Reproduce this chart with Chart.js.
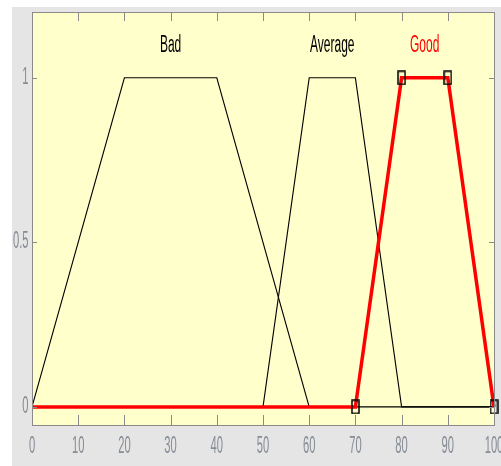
<!DOCTYPE html>
<html>
<head>
<meta charset="utf-8">
<script src="https://cdn.jsdelivr.net/npm/chart.js@4"></script>
<style>
  html, body { margin: 0; padding: 0; background: #ffffff; overflow: hidden; }
  #wrap { position: absolute; left: 12px; top: 7px; width: 500px; height: 459px; background: #e5e5e5; }
</style>
</head>
<body>
<div id="wrap"><canvas id="mfChart"></canvas></div>
<script>
// Функции принадлежности (трапеции)
const badX = [0, 20, 40, 60, 100];
const badY = [0, 1, 1, 0, 0];
const averageX = [0, 50, 60, 70, 80, 100];
const averageY = [0, 0, 1, 1, 0, 0];
const goodX = [0, 70, 80, 90, 100];
const goodY = [0, 0, 1, 1, 0];

// Подписи функций
const mfNames = ['Bad', 'Average', 'Good'];
const mfLabelX = [30, 65, 85];
const mfLabelY = 1.1;

// Деления осей
const xTicks = [0, 10, 20, 30, 40, 50, 60, 70, 80, 90, 100];
const yTicks = [0, 0.5, 1];

function toPoints(xs, ys) {
    return xs.map((x, i) => ({ x: x, y: ys[i] }));
}

// Маркер-прямоугольник (вытянутый по вертикали, как на картинке)
const marker = document.createElement('canvas');
marker.width = 9;
marker.height = 15;
const mctx = marker.getContext('2d');
mctx.strokeStyle = '#000000';
mctx.lineWidth = 1.5;
mctx.strokeRect(1, 1, 7, 13);

// Узкий вытянутый шрифт, как в исходной картинке
function stretchedText(ctx, text, x, y, font, color, sy, align) {
    ctx.save();
    ctx.translate(x, y);
    ctx.scale(0.8, sy);
    ctx.font = font;
    ctx.fillStyle = color;
    ctx.textAlign = align;
    ctx.textBaseline = 'middle';
    ctx.fillText(text, 0, 0);
    ctx.restore();
}

const frame = {
    id: 'frame',
    beforeDraw(chart) {
        const a = chart.chartArea;
        const ctx = chart.ctx;
        ctx.save();
        ctx.fillStyle = '#ffffcc';
        ctx.fillRect(a.left, a.top, a.right - a.left, a.bottom - a.top);
        ctx.restore();
    },
    afterDatasetsDraw(chart) {
        const a = chart.chartArea;
        const ctx = chart.ctx;
        const xs = chart.scales.x;
        const ys = chart.scales.y;
        ctx.save();
        ctx.strokeStyle = '#8a8a8a';
        ctx.lineWidth = 1;
        ctx.strokeRect(Math.round(a.left) + 0.5, Math.round(a.top) + 0.5,
            Math.round(a.right - a.left), Math.round(a.bottom - a.top));
        // Внутренние засечки
        ctx.beginPath();
        xs.ticks.forEach(t => {
            const px = Math.round(xs.getPixelForValue(t.value)) + 0.5;
            ctx.moveTo(px, a.bottom);
            ctx.lineTo(px, a.bottom - 10);
            ctx.moveTo(px, a.top);
            ctx.lineTo(px, a.top + 9);
        });
        ys.ticks.forEach(t => {
            const py = Math.round(ys.getPixelForValue(t.value)) + 0.5;
            ctx.moveTo(a.left, py);
            ctx.lineTo(a.left + 5, py);
            ctx.moveTo(a.right, py);
            ctx.lineTo(a.right - 5, py);
        });
        ctx.stroke();
        ctx.restore();

        const tickFont = '14px "Liberation Sans", Arial, sans-serif';
        xs.ticks.forEach(t => {
            stretchedText(ctx, String(t.value), xs.getPixelForValue(t.value), a.bottom + 21.5,
                tickFont, '#878d96', 1.75, 'center');
        });
        ys.ticks.forEach(t => {
            stretchedText(ctx, String(t.value), a.left - 3.5, ys.getPixelForValue(t.value) - 1,
                tickFont, '#878d96', 1.75, 'right');
        });

        const labelFont = '15px "Liberation Sans", Arial, sans-serif';
        const labelColors = ['#000000', '#000000', '#ff0000'];
        mfNames.forEach((name, i) => {
            stretchedText(ctx, name, xs.getPixelForValue(mfLabelX[i]), ys.getPixelForValue(mfLabelY),
                labelFont, labelColors[i], 1.65, 'center');
        });
    }
};

const ctx = document.getElementById('mfChart').getContext('2d');
new Chart(ctx, {
    type: 'line',
    data: {
        datasets: [
            {
                label: 'Good',
                data: toPoints(goodX, goodY),
                borderColor: '#ff0000',
                borderWidth: 3.5,
                pointStyle: marker,
                pointRadius: [0, 5, 5, 5, 5],
                order: 0,
                clip: false
            },
            {
                label: 'Average',
                data: toPoints(averageX, averageY),
                borderColor: '#000000',
                borderWidth: 1.1,
                pointRadius: 0,
                order: 1
            },
            {
                label: 'Bad',
                data: toPoints(badX, badY),
                borderColor: '#000000',
                borderWidth: 1.1,
                pointRadius: 0,
                order: 2
            }
        ]
    },
    options: {
        responsive: true,
        maintainAspectRatio: false,
        animation: false,
        layout: { autoPadding: false, padding: { left: 0, top: 5, right: 18, bottom: 0 } },
        elements: { line: { tension: 0, fill: false } },
        plugins: {
            legend: { display: false },
            tooltip: { enabled: false }
        },
        scales: {
            x: {
                type: 'linear',
                min: 0,
                max: 100,
                afterBuildTicks: scale => { scale.ticks = xTicks.map(v => ({ value: v })); },
                afterFit: scale => { scale.height = 41; },
                grid: { display: false },
                border: { display: false },
                ticks: { display: false }
            },
            y: {
                type: 'linear',
                min: -0.055,
                max: 1.2,
                afterBuildTicks: scale => { scale.ticks = yTicks.map(v => ({ value: v })); },
                afterFit: scale => { scale.width = 20; },
                grid: { display: false },
                border: { display: false },
                ticks: { display: false }
            }
        }
    },
    plugins: [frame]
});
</script>
</body>
</html>
